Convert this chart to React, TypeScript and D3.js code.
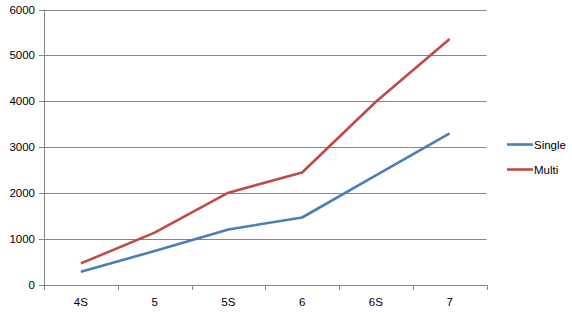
import React from "react";
import * as d3 from "d3";

const categories = ["4S", "5", "5S", "6", "6S", "7"];
const singleValues = [290, 740, 1210, 1470, 2390, 3300];
const multiValues = [470, 1140, 2010, 2450, 3990, 5360];
const yTicks = [0, 1000, 2000, 3000, 4000, 5000, 6000];
const seriesNames = ["Single", "Multi"];
const colors = ["#4A7EBB", "#BE4B48"];

export default function App() {
  const W = 572, H = 314;
  const left = 44, right = 486.5, top = 9.5, bottom = 285;
  const x = d3.scaleBand().domain(categories).range([left, right]);
  const y = d3.scaleLinear().domain([0, 6000]).range([bottom, top]);
  const line = d3
    .line<number>()
    .x((_, i) => (x(categories[i]) as number) + x.bandwidth() / 2)
    .y((d) => y(d));
  const series = [singleValues, multiValues];
  const font = "'Liberation Sans', Arial, sans-serif";
  const grid = "#868686";
  return (
    <svg width={W} height={H} style={{ position: "absolute", left: 0, top: 0, background: "#fff" }} fontFamily={font}>
      {yTicks.map((t) => (
        <g key={t}>
          <line x1={left - 5} x2={right} y1={Math.round(y(t)) + 0.5} y2={Math.round(y(t)) + 0.5} stroke={grid} strokeWidth={1} />
          <text x={left - 9} y={y(t)} dy="0.35em" textAnchor="end" fontSize={11.5} fill="#000">{t}</text>
        </g>
      ))}
      <line x1={left + 0.5} x2={left + 0.5} y1={top} y2={bottom + 5} stroke={grid} strokeWidth={1} />
      {categories.map((c, i) => (
        <g key={c}>
          <line x1={Math.round((x(c) as number) + x.bandwidth()) + 0.5} x2={Math.round((x(c) as number) + x.bandwidth()) + 0.5} y1={bottom} y2={bottom + 5} stroke={grid} />
          <text x={(x(c) as number) + x.bandwidth() / 2} y={302} dy="0.35em" textAnchor="middle" fontSize={11.5} fill="#000">{c}</text>
        </g>
      ))}
      {series.map((s, i) => (
        <path key={i} d={line(s) as string} fill="none" stroke={colors[i]} strokeWidth={2.6} strokeLinejoin="round" />
      ))}
      {seriesNames.map((n, i) => (
        <g key={n} transform={`translate(0, ${144.5 + i * 25})`}>
          <line x1={507} x2={533} y1={0} y2={0} stroke={colors[i]} strokeWidth={2.6} />
          <text x={534} y={0} dy="0.35em" fontSize={11.5} fill="#000">{n}</text>
        </g>
      ))}
    </svg>
  );
}
